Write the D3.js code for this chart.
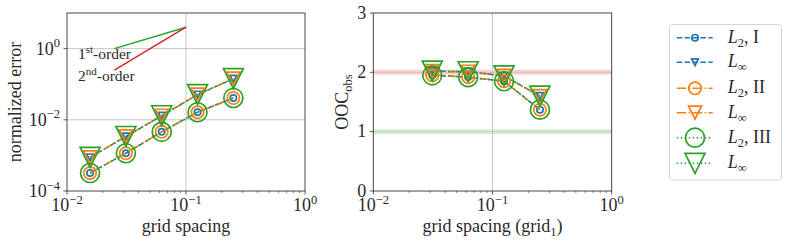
<!DOCTYPE html>
<html><head><meta charset="utf-8">
<script src="https://cdn.jsdelivr.net/npm/d3@7"></script>
<style>body{margin:0;background:#fff}svg{display:block}text{font-family:"Liberation Serif","DejaVu Serif",serif;fill:#2a2a2a}</style>
</head><body><svg id="c" width="789" height="243"></svg>
<script>
const gridH = [1/64, 1/32, 1/16, 1/8, 1/4];
const errL2 = [3.2e-4, 1.15e-3, 4.6e-3, 0.0163, 0.041];
const errLinf = [8.8e-4, 3.4e-3, 0.013, 0.051, 0.143];
const oocH = [1/32, 1/16, 1/8, 1/4];
const oocL2 = [1.95, 1.92, 1.85, 1.37];
const oocLinf = [2.02, 2.01, 1.94, 1.6];
const seriesNames = ["I", "II", "III"];
const seriesColors = ["#1f77b4", "#ff7f0e", "#2ca02c"];
const seriesDash = ["5.5,2.4", "9.6,2.4,1.5,2.4", "1.5,2.5"];
const markerScale = [3.2, 6.2, 9.5];
const xTickExp = [-2, -1, 0];
const yTickExpLeft = [-4, -2, 0];
const yTicksRight = [0, 1, 2, 3];
const orderLines = [{label:"1", sup:"st", x0:0.025, x1:0.1, y1:4, order:1, color:"#2ca02c"},
                    {label:"2", sup:"nd", x0:0.025, x1:0.1, y1:4, order:2, color:"#d62728"}];

const svg = d3.select("#c");
const FS = 18;
const L = {x0:67, x1:305, y0:13, y1:191};
const R = {x0:373.3, x1:611.7, y0:13, y1:191};

function expLabel(sel, exp){
  sel.append("tspan").text("10");
  sel.append("tspan").attr("font-size", 12.5).attr("dy", -7.5).text(exp < 0 ? "\u2212" + (-exp) : String(exp));
}

function logXAxis(g, box, x){
  g.append("line").attr("x1", x(0.1)).attr("x2", x(0.1)).attr("y1", box.y0).attr("y2", box.y1)
    .attr("stroke", "#b0b0b0").attr("stroke-opacity", 0.7).attr("stroke-width", 1);
  const minors = [];
  for (let e = -2; e < 0; e++) for (let m = 2; m <= 9; m++) minors.push(m * Math.pow(10, e));
  minors.forEach(v => g.append("line").attr("x1", x(v)).attr("x2", x(v)).attr("y1", box.y1).attr("y2", box.y1 + 2)
    .attr("stroke", "#333").attr("stroke-width", 0.6));
  xTickExp.forEach(e => {
    const v = Math.pow(10, e);
    g.append("line").attr("x1", x(v)).attr("x2", x(v)).attr("y1", box.y1).attr("y2", box.y1 + 3.5)
      .attr("stroke", "#333").attr("stroke-width", 0.8);
    const t = g.append("text").attr("x", x(v)).attr("y", box.y1 + 20).attr("text-anchor", "middle").attr("font-size", FS);
    expLabel(t, e);
  });
}

function marker(g, type, cx, cy, s, color){
  if (type === "circle") {
    g.append("circle").attr("cx", cx).attr("cy", cy).attr("r", s).attr("fill", "none")
      .attr("stroke", color).attr("stroke-width", 1.7);
  } else {
    const p = d3.path();
    p.moveTo(cx - s, cy - s); p.lineTo(cx + s, cy - s); p.lineTo(cx, cy + s); p.closePath();
    g.append("path").attr("d", p.toString()).attr("fill", "none").attr("stroke", color).attr("stroke-width", 1.7).attr("stroke-linejoin", "miter");
  }
}

function drawSeries(g, x, y, xs, ys, type, i){
  const line = d3.line().x((d, k) => x(xs[k])).y(d => y(d));
  g.append("path").attr("d", line(ys)).attr("fill", "none").attr("stroke", seriesColors[i])
    .attr("stroke-width", 1.5).attr("stroke-dasharray", seriesDash[i]);
  ys.forEach((v, k) => marker(g, type, x(xs[k]), y(v), type === "circle" ? markerScale[i] : markerScale[i] * 1.05, seriesColors[i]));
}

// ---------- Left panel ----------
{
  const g = svg.append("g");
  const x = d3.scaleLog().domain([1e-2, 1]).range([L.x0, L.x1]);
  const y = d3.scaleLog().domain([1e-4, 10]).range([L.y1, L.y0]);
  [1, 1e-2].forEach(v => g.append("line").attr("x1", L.x0).attr("x2", L.x1).attr("y1", y(v)).attr("y2", y(v))
    .attr("stroke", "#b0b0b0").attr("stroke-opacity", 0.7).attr("stroke-width", 1));
  logXAxis(g, L, x);
  yTickExpLeft.forEach(e => {
    const v = Math.pow(10, e);
    g.append("line").attr("x1", L.x0 - 3.5).attr("x2", L.x0).attr("y1", y(v)).attr("y2", y(v)).attr("stroke", "#333").attr("stroke-width", 0.8);
    const t = g.append("text").attr("x", L.x0 - 7).attr("y", y(v) + 6).attr("text-anchor", "end").attr("font-size", FS);
    expLabel(t, e);
  });
  orderLines.forEach(o => {
    const y0 = o.y1 * Math.pow(o.x0 / o.x1, o.order);
    g.append("line").attr("x1", x(o.x0)).attr("y1", y(y0)).attr("x2", x(o.x1)).attr("y2", y(o.y1))
      .attr("stroke", o.color).attr("stroke-width", 1.5);
  });
  const lbl = [[78, 59], [78, 81]];
  orderLines.forEach((o, k) => {
    const t = g.append("text").attr("x", lbl[k][0]).attr("y", lbl[k][1]).attr("font-size", 15.5);
    t.append("tspan").text(o.label);
    t.append("tspan").attr("font-size", 11).attr("dy", -6).text(o.sup);
    t.append("tspan").attr("dy", 6).text("-order");
  });
  const pg = g.append("g");
  seriesNames.forEach((n, i) => {
    drawSeries(pg, x, y, gridH, errL2, "circle", i);
    drawSeries(pg, x, y, gridH, errLinf, "tri", i);
  });
  g.append("rect").attr("x", L.x0).attr("y", L.y0).attr("width", L.x1 - L.x0).attr("height", L.y1 - L.y0)
    .attr("fill", "none").attr("stroke", "#333").attr("stroke-width", 0.9);
  g.append("text").attr("x", (L.x0 + L.x1) / 2).attr("y", 232).attr("text-anchor", "middle").attr("font-size", FS).text("grid spacing");
  g.append("text").attr("transform", `translate(21,${(L.y0 + L.y1) / 2}) rotate(-90)`).attr("text-anchor", "middle").attr("font-size", FS).text("normalized error");
}

// ---------- Right panel ----------
{
  const g = svg.append("g");
  const x = d3.scaleLog().domain([1e-2, 1]).range([R.x0, R.x1]);
  const y = d3.scaleLinear().domain([0, 3]).range([R.y1, R.y0]);
  [[2, "#d62728"], [1, "#2ca02c"]].forEach(([v, c]) => {
    g.append("line").attr("x1", R.x0).attr("x2", R.x1).attr("y1", y(v)).attr("y2", y(v)).attr("stroke", c).attr("stroke-opacity", 0.2).attr("stroke-width", 5);
    g.append("line").attr("x1", R.x0).attr("x2", R.x1).attr("y1", y(v)).attr("y2", y(v)).attr("stroke", c).attr("stroke-opacity", 0.15).attr("stroke-width", 1.2);
  });
  logXAxis(g, R, x);
  yTicksRight.forEach(v => {
    g.append("line").attr("x1", R.x0 - 3.5).attr("x2", R.x0).attr("y1", y(v)).attr("y2", y(v)).attr("stroke", "#333").attr("stroke-width", 0.8);
    g.append("text").attr("x", R.x0 - 7).attr("y", y(v) + 5.5).attr("text-anchor", "end").attr("font-size", FS).text(v);
  });
  const pg = g.append("g");
  seriesNames.forEach((n, i) => {
    drawSeries(pg, x, y, oocH, oocL2, "circle", i);
    drawSeries(pg, x, y, oocH, oocLinf, "tri", i);
  });
  g.append("rect").attr("x", R.x0).attr("y", R.y0).attr("width", R.x1 - R.x0).attr("height", R.y1 - R.y0)
    .attr("fill", "none").attr("stroke", "#333").attr("stroke-width", 0.9);
  const xl = g.append("text").attr("x", (R.x0 + R.x1) / 2).attr("y", 232).attr("text-anchor", "middle").attr("font-size", FS);
  xl.append("tspan").text("grid spacing (grid");
  xl.append("tspan").attr("font-size", 12.5).attr("dy", 4).text("1");
  xl.append("tspan").attr("dy", -4).text(")");
  const yl = g.append("text").attr("transform", `translate(348,${(R.y0 + R.y1) / 2}) rotate(-90)`).attr("text-anchor", "middle").attr("font-size", FS);
  yl.append("tspan").text("OOC");
  yl.append("tspan").attr("font-size", 12.5).attr("dy", 4).text("obs");
}

// ---------- Legend ----------
{
  const g = svg.append("g");
  g.append("rect").attr("x", 669.5).attr("y", 24.5).attr("width", 112).attr("height", 155.5).attr("rx", 3)
    .attr("fill", "#fff").attr("stroke", "#d5d5d5").attr("stroke-width", 1);
  const rowY = [37.7, 62.3, 88.3, 112.7, 137.7, 163.3];
  let r = 0;
  seriesNames.forEach((n, i) => {
    ["circle", "tri"].forEach(type => {
      const yy = rowY[r++];
      g.append("line").attr("x1", 676.7).attr("x2", 712.7).attr("y1", yy).attr("y2", yy)
        .attr("stroke", seriesColors[i]).attr("stroke-width", 1.5).attr("stroke-dasharray", seriesDash[i]);
      marker(g, type, 695, yy, type === "circle" ? markerScale[i] : markerScale[i] * 1.05, seriesColors[i]);
      const t = g.append("text").attr("x", 727.7).attr("y", yy + 5).attr("font-size", FS);
      t.append("tspan").attr("font-style", "italic").text("L");
      if (type === "circle") {
        t.append("tspan").attr("font-size", 12.5).attr("dy", 4).text("2");
        t.append("tspan").attr("dy", -4).text(", " + n);
      } else {
        t.append("tspan").attr("font-size", 12.5).attr("dy", 4).text("\u221E");
      }
    });
  });
}
</script></body></html>
